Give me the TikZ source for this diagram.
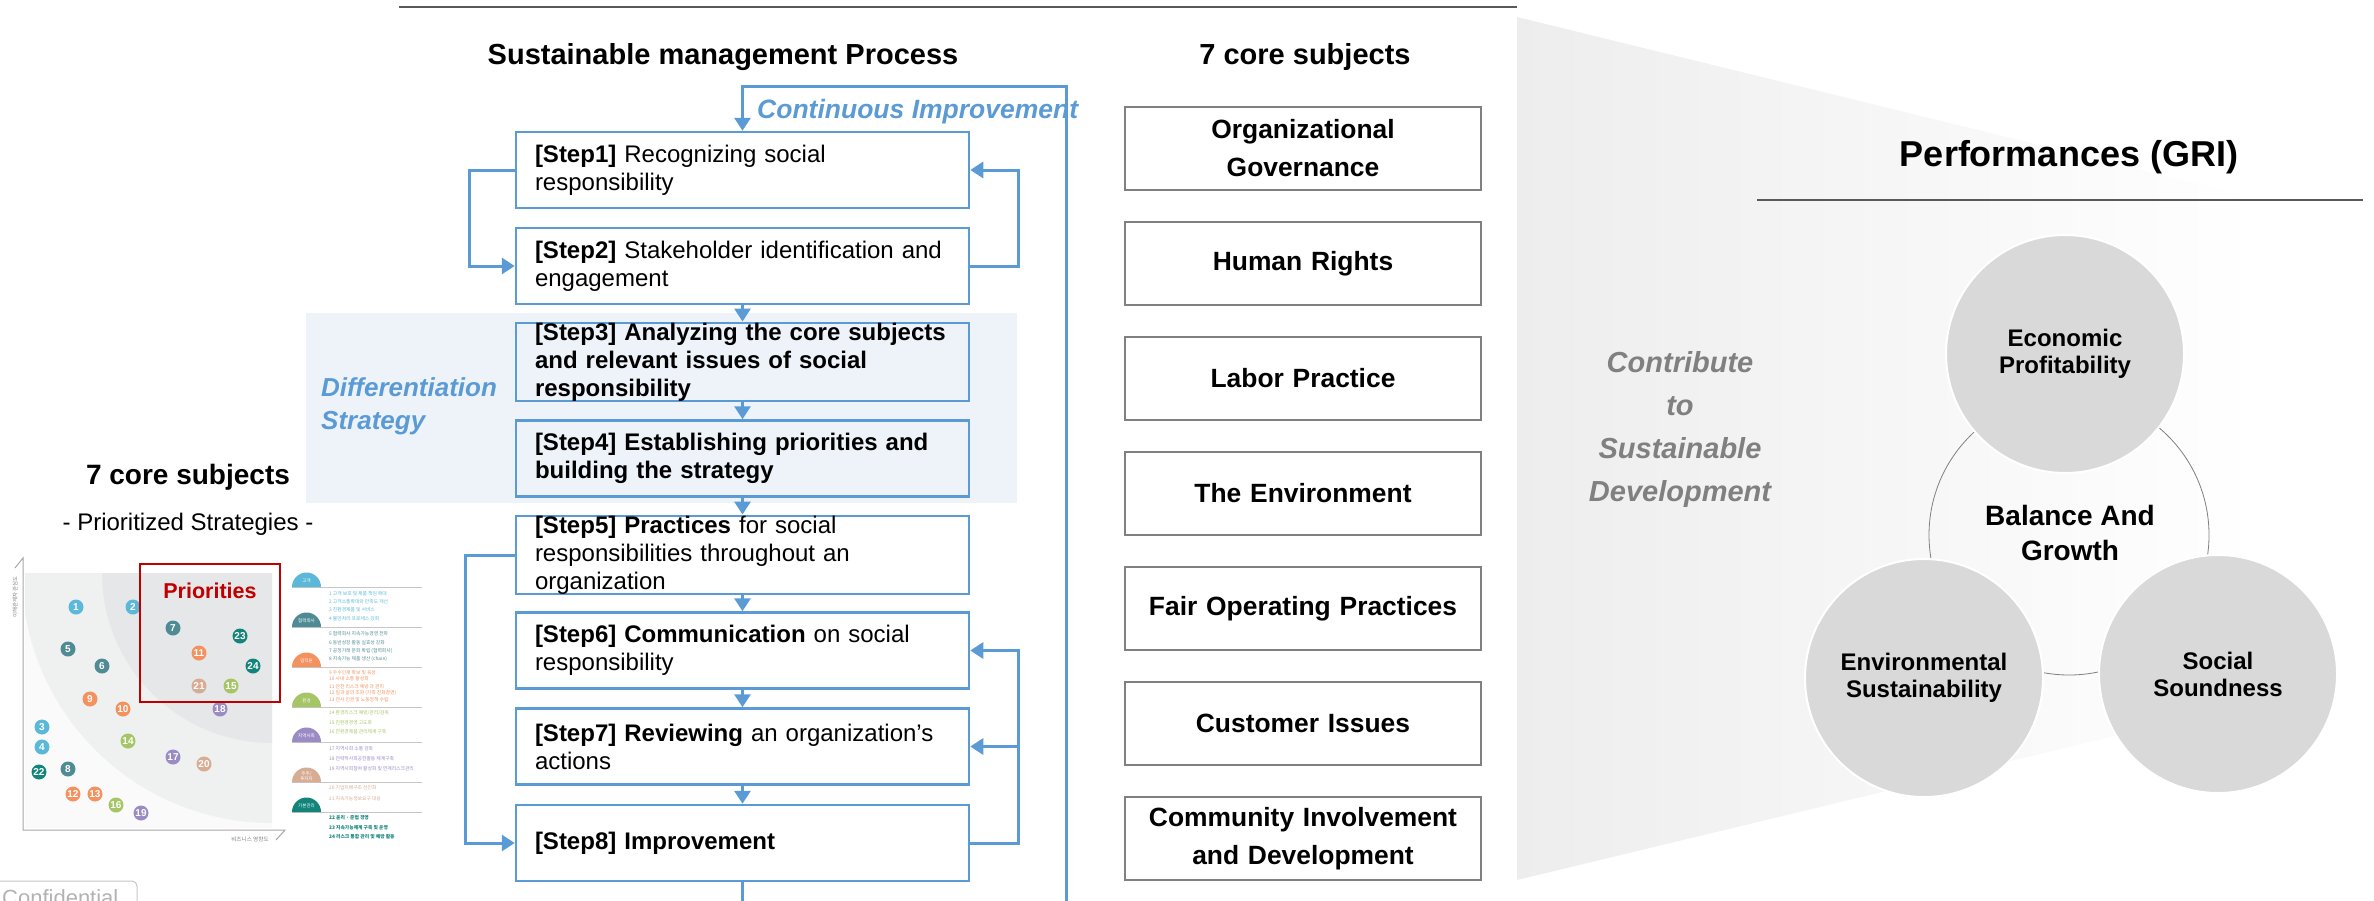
\documentclass[tikz,border=0pt]{standalone}
\usepackage{fontspec}
\setmainfont{Liberation Sans}
\newfontfamily\krfont{Noto Sans CJK KR}
\usetikzlibrary{arrows.meta, positioning, calc}

\definecolor{flowblue}{HTML}{5B9BD5}
\definecolor{bandblue}{HTML}{EEF3FA}
\definecolor{prired}{HTML}{C00000}
\definecolor{circgray}{HTML}{D9D9D9}
\definecolor{linegray}{HTML}{595959}
\definecolor{chartlo}{HTML}{FAFAFA}
\definecolor{chartmid}{HTML}{EFF0F0}
\definecolor{charthi}{HTML}{E6E7E9}
\definecolor{cCust}{HTML}{5BB8D9}
\definecolor{cPart}{HTML}{4F8B94}
\definecolor{cEmp}{HTML}{F3925F}
\definecolor{cEnv}{HTML}{A5C566}
\definecolor{cComm}{HTML}{9B8BC5}
\definecolor{cShare}{HTML}{D7AC93}
\definecolor{cBase}{HTML}{138479}

\newcommand{\fsz}[2]{\fontsize{#1}{#2}\selectfont}

\tikzset{
	stepbox/.style={draw=flowblue, line width=2.5pt, fill=white, minimum height=76pt, text width=415pt, inner xsep=19pt, inner ysep=0pt, align=left, font=\fsz{24}{28}},
	corebox/.style={draw=gray, line width=1.5pt, minimum height=83pt, text width=340pt, inner xsep=8pt, align=center, font=\fsz{26.4}{38}\bfseries},
	flow/.style={flowblue, line width=3pt, -{Triangle[width=16pt,length=13pt]}},
	gri/.style={circle, fill=circgray, draw=white, line width=2pt, minimum size=238pt, align=center, font=\fsz{24}{27}\bfseries},
	bubble/.style={circle, fill=#1, text=white, minimum size=15pt, inner sep=0pt, font=\fsz{10}{10}\bfseries},
	legitem/.style={anchor=west, inner sep=0pt, text=#1, font=\krfont\fsz{4.8}{5}},
}

\begin{document}
\begin{tikzpicture}[x=1pt, y=-1pt]
	\useasboundingbox (0,0) rectangle (2374,900);
	\clip (0,0) rectangle (2374,900);

	\shade[left color=black!7, right color=white] (1517,17) -- (2260,199) -- (2260,701) -- (1517,880) -- cycle;
	\fill[bandblue] (306,313) rectangle (1017,503);

	\draw[linegray, line width=2pt] (399,7) -- (1517,7);
	\draw[linegray, line width=2pt] (1757,200) -- (2363,200);

	% priority chart
	\begin{scope}
		\clip (25,573) rectangle (272,828);
		\fill[chartlo] (25,573) rectangle (272,828);
		\fill[chartmid] (272,573) circle (250pt);
		\fill[charthi] (272,573) circle (170pt);
	\end{scope}
	\draw[gray!70, line width=1pt] (15,568) -- (23,558) -- (23,830) -- (285,830) -- (276,840);
	\node[rotate=90, text=gray, font=\krfont\fsz{5.4}{6}] (ylab) at (15,597) {이해관계자 관심도};
	\node[text=gray, font=\krfont\fsz{5.6}{6}] (xlab) at (250,839) {비즈니스 영향도};

	\foreach \n/\x/\y/\c in {1/76/607/cCust, 2/133/607/cCust, 3/42/727/cCust, 4/42/747/cCust,
			5/68/649/cPart, 6/102/666/cPart, 7/173/628/cPart, 8/68/769/cPart,
			9/90/699/cEmp, 10/123/709/cEmp, 11/199/653/cEmp, 12/73/794/cEmp, 13/95/794/cEmp,
			14/128/741/cEnv, 15/231/686/cEnv, 16/116/805/cEnv,
			17/173/757/cComm, 18/220/709/cComm, 19/141/813/cComm,
			20/204/764/cShare, 21/199/686/cShare,
			22/39/772/cBase, 23/240/636/cBase, 24/253/666/cBase}
		\node[bubble=\c] (b\n) at (\x,\y) {\n};

	\draw[prired, line width=2pt] (140,564) rectangle (280,702);
	\node[text=prired, font=\fsz{21.5}{24}\bfseries] (prt) at (210,591) {Priorities};

	\foreach \y/\c/\t [count=\i] in {587/cCust/{고객}, 627/cPart/{협력회사}, 667/cEmp/{임직원}, 707/cEnv/{환경},
			742/cComm/{지역사회}, 782/cShare/{주주/\\투자자}, 812/cBase/{기본관리}} {
		\draw[gray!45, line width=1pt] (292,\y) -- (422,\y);
		\fill[\c] (292,\y) arc[start angle=180, end angle=0, radius=14.5pt];
		\node[text=white, align=center, inner sep=0pt, font=\krfont\fsz{4.5}{5}] (d\i) at (306.5,\y-6) {\t};
	}

	\foreach \y/\c/\t [count=\i] in {594/cCust/{1 고객 보호 및 제품 책임 확대}, 602/cCust/{2 고객소통확대와 만족도 개선},
			610/cCust/{3 친환경제품 및 서비스}, 619/cCust/{4 불만처리 프로세스 강화},
			634/cPart/{5 협력회사 지속가능경영 전파}, 643/cPart/{6 동반성장 활동 실효성 강화},
			651/cPart/{7 공정거래 문화 확립 (협력회사)}, 659/cPart/{8 지속가능 제품 생산 (chain)},
			673/cEmp/{9 우수인재 확보 및 육성}, 679/cEmp/{10 사내 소통 활성화}, 687/cEmp/{11 안전 리스크 예방 과 관리},
			693/cEmp/{12 일과 삶의 조화 (가족 친화경영)}, 700/cEmp/{13 전사 인권 및 노동정책 수립},
			713/cEnv/{14 환경리스크 예방/관리/감독}, 723/cEnv/{15 친환경경영 고도화}, 732/cEnv/{16 친환경제품 관리체계 구축},
			749/cComm/{17 지역사회 소통 강화}, 759/cComm/{18 전략적사회공헌활동 체계구축},
			769/cComm/{19 지역사회참여 활성화 및 연계리스크관리},
			788/cShare/{20 기업지배구조 선진화}, 799/cShare/{21 지속가능정보요구 대응},
			818/cBase/{\bfseries 22 윤리 · 준법 경영}, 828/cBase/{\bfseries 23 지속가능체계 구축 및 운영},
			837/cBase/{\bfseries 24 리스크 통합 관리 및 예방 활동}}
		\node[legitem=\c] (it\i) at (329,\y) {\t};

	\node[font=\fsz{28}{32}\bfseries] (coreL) at (188,477) {7 core subjects};
	\node[font=\fsz{24}{28}] (prio) at (188,524) {- Prioritized Strategies -};

	\draw[gray!45, line width=1pt, rounded corners=5pt] (-5,881) rectangle (137,925);
	\node[anchor=base west, inner sep=0pt, text=gray!60, font=\fsz{22}{24}] (conf) at (2,905) {Confidential};

	% process
	\node[font=\fsz{29}{34}\bfseries] (proc) at (723,57) {Sustainable management Process};
	\node[anchor=west, inner sep=0pt, text=flowblue, font=\fsz{26.5}{32}\bfseries\itshape] (cimp) at (757,112) {Continuous Improvement};
	\node[anchor=west, inner sep=0pt, align=left, text=flowblue, font=\fsz{26}{33}\bfseries\itshape] (diff) at (321,406.5) {Differentiation\\Strategy};

	\node[stepbox] (s1) at (742.5,170) {\textbf{[Step1]} Recognizing social\\responsibility};
	\node[stepbox] (s2) at (742.5,266) {\textbf{[Step2]} Stakeholder identification and\\engagement};
	\node[stepbox, fill=bandblue, font=\fsz{24}{28}\bfseries] (s3) at (742.5,362) {[Step3] Analyzing the core subjects\\and relevant issues of social\\responsibility};
	\node[stepbox, fill=bandblue, font=\fsz{24}{28}\bfseries] (s4) at (742.5,458.5) {[Step4] Establishing priorities and\\building the strategy};
	\node[stepbox] (s5) at (742.5,555) {\textbf{[Step5] Practices} for social\\responsibilities throughout an\\organization};
	\node[stepbox] (s6) at (742.5,650.5) {\textbf{[Step6] Communication} on social\\responsibility};
	\node[stepbox] (s7) at (742.5,746.5) {\textbf{[Step7] Reviewing} an organization’s\\actions};
	\node[stepbox, font=\fsz{24}{28}\bfseries] (s8) at (742.5,843) {[Step8] Improvement};

	\foreach \a/\b in {s2/s3, s3/s4, s4/s5, s5/s6, s6/s7, s7/s8}
		\draw[flow] (\a) -- (\b);
	\draw[flow] (s1.west) -- ++(-45,0) |- (s2.west);
	\draw[flow] (s2.east) -- ++(48,0) |- (s1.east);
	\draw[flow] (s5.west) -- ++(-49,0) |- (s8.west);
	\draw[flow] (s8.east) -- ++(48,0) |- (s7.east);
	\draw[flow] (s8.east) -- ++(48,0) |- (s6.east);

	\coordinate (ciB) at (1066,915);
	\coordinate (ciT) at (1066,86);
	\draw[flow] (s8.south) |- (ciB) -- (ciT) -| (s1.north);

	% core subjects
	\node[font=\fsz{29}{34}\bfseries] (coreR) at (1305,57) {7 core subjects};
	\foreach \t [count=\i] in {{Organizational\\Governance}, Human Rights, Labor Practice, The Environment,
			Fair Operating Practices, Customer Issues, {Community Involvement\\and Development}}
		\node[corebox] (c\i) at (1303,33.5+115*\i) {\t};

	% performances
	\node[font=\fsz{36}{40}\bfseries] (perf) at (2069,157) {Performances (GRI)};
	\node[text=gray, align=center, font=\fsz{29}{43}\bfseries\itshape] (contrib) at (1680,429) {Contribute\\to\\Sustainable\\Development};

	\draw[gray, line width=0.8pt] (2069,535) circle (140pt);
	\node[gri] (eco) at (2065,354) {Economic\\Profitability};
	\node[gri] (env) at (1924,678) {Environmental\\Sustainability};
	\node[gri] (soc) at (2218,674) {Social\\Soundness};
	\node[align=center, font=\fsz{28}{35}\bfseries] (bal) at (2070,533) {Balance And\\Growth};
\end{tikzpicture}
\end{document}
